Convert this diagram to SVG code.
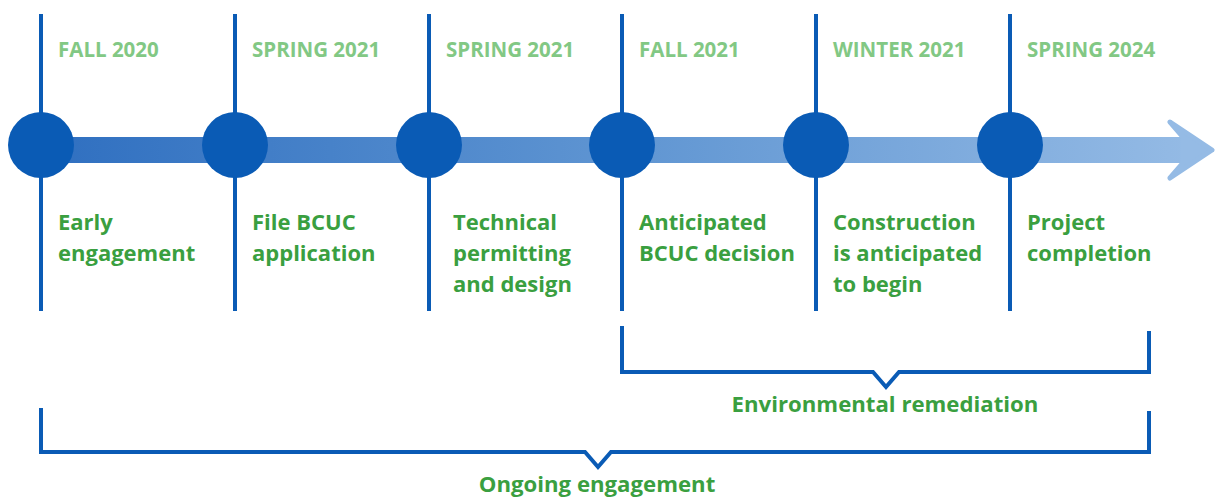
<svg xmlns="http://www.w3.org/2000/svg" width="1215" height="500" viewBox="0 0 1215 500">
<defs>
<linearGradient id="barGrad" x1="41" y1="0" x2="1200" y2="0" gradientUnits="userSpaceOnUse">
<stop offset="0" stop-color="#2f6fc0"/>
<stop offset="0.5" stop-color="#5f95d2"/>
<stop offset="1" stop-color="#95bbe5"/>
</linearGradient>
<style>
.vline{stroke:#0a5bb5;stroke-width:4;fill:none}
.dot{fill:#0a5bb5}
.date{font-family:"Open Sans",sans-serif;font-weight:700;font-size:20.5px;fill:#82c884}
.lbl{font-family:"Open Sans",sans-serif;font-weight:700;font-size:22px;fill:#3a9f40}
.brk{stroke:#0a5bb5;stroke-width:4;fill:none;stroke-linejoin:miter}
.blbl{font-family:"Open Sans",sans-serif;font-weight:700;font-size:22.2px;fill:#3a9f40;text-anchor:middle}
</style>
</defs>
<rect width="1215" height="500" fill="#ffffff"/>
<g id="connectors">
<rect x="41" y="137" width="1145" height="26" fill="url(#barGrad)"/>
<polygon points="1183,137 1170,122 1212,150 1170,178 1183,163" fill="#95bbe5" stroke="#95bbe5" stroke-width="5" stroke-linejoin="round"/>
</g>
<g id="m1">
<line class="vline" x1="41" y1="14" x2="41" y2="311"/>
<circle class="dot" cx="41" cy="145" r="33"/>
<text class="date" x="58" y="57">FALL 2020</text>
<text class="lbl" x="58" y="230">Early</text>
<text class="lbl" x="58" y="261">engagement</text>
</g>
<g id="m2">
<line class="vline" x1="235" y1="14" x2="235" y2="311"/>
<circle class="dot" cx="235" cy="145" r="33"/>
<text class="date" x="252" y="57">SPRING 2021</text>
<text class="lbl" x="252" y="230">File BCUC</text>
<text class="lbl" x="252" y="261">application</text>
</g>
<g id="m3">
<line class="vline" x1="429" y1="14" x2="429" y2="311"/>
<circle class="dot" cx="429" cy="145" r="33"/>
<text class="date" x="446" y="57">SPRING 2021</text>
<text class="lbl" x="453" y="230">Technical</text>
<text class="lbl" x="453" y="261">permitting</text>
<text class="lbl" x="453" y="292">and design</text>
</g>
<g id="m4">
<line class="vline" x1="622" y1="14" x2="622" y2="311"/>
<circle class="dot" cx="622" cy="145" r="33"/>
<text class="date" x="639" y="57">FALL 2021</text>
<text class="lbl" x="639" y="230">Anticipated</text>
<text class="lbl" x="639" y="261">BCUC decision</text>
</g>
<g id="m5">
<line class="vline" x1="816" y1="14" x2="816" y2="311"/>
<circle class="dot" cx="816" cy="145" r="33"/>
<text class="date" x="833" y="57">WINTER 2021</text>
<text class="lbl" x="833" y="230">Construction</text>
<text class="lbl" x="833" y="261">is anticipated</text>
<text class="lbl" x="833" y="292">to begin</text>
</g>
<g id="m6">
<line class="vline" x1="1010" y1="14" x2="1010" y2="311"/>
<circle class="dot" cx="1010" cy="145" r="33"/>
<text class="date" x="1027" y="57">SPRING 2024</text>
<text class="lbl" x="1027" y="230">Project</text>
<text class="lbl" x="1027" y="261">completion</text>
</g>
<g id="bracket-env">
<polyline class="brk" points="622,326 622,372 873,372 886,387 899,372 1149,372 1149,331"/>
<text class="blbl" x="885" y="412">Environmental remediation</text>
</g>
<g id="bracket-ongoing">
<polyline class="brk" points="41,408 41,452 585,452 598,467 611,452 1149,452 1149,411"/>
<text class="blbl" x="597" y="492">Ongoing engagement</text>
</g>
</svg>
